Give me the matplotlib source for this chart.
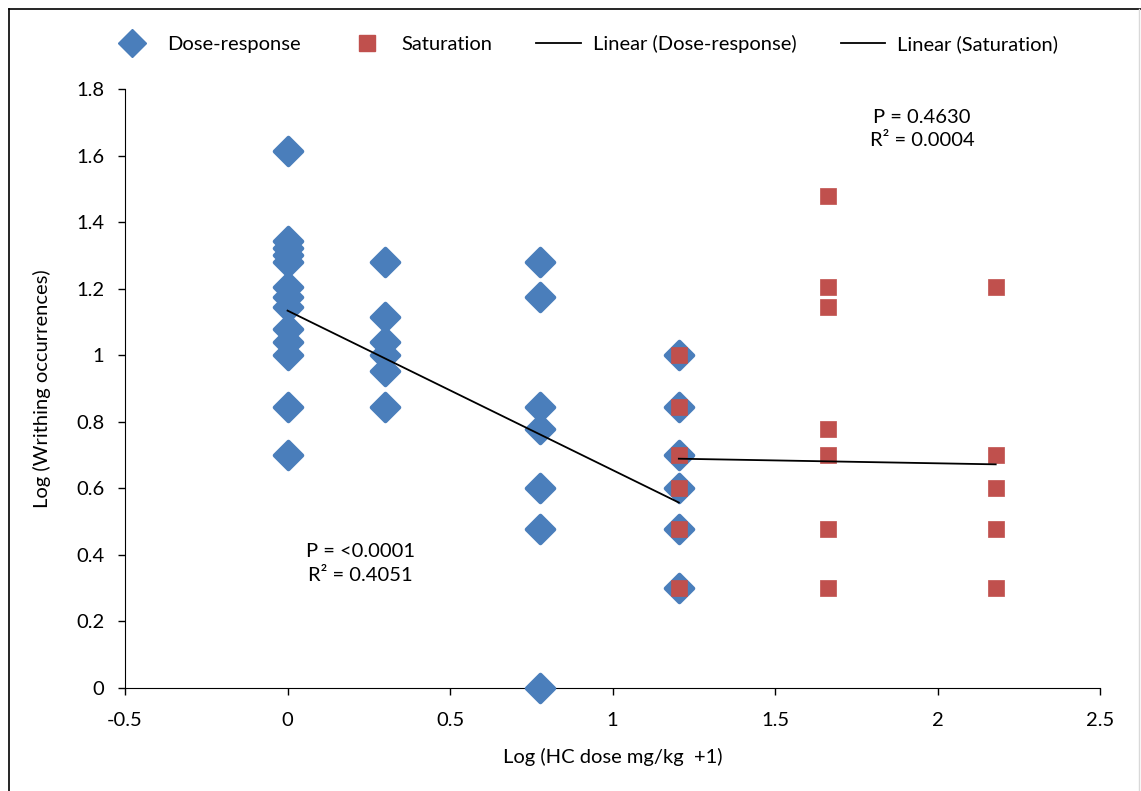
import matplotlib.pyplot as plt
import matplotlib.lines as mlines
import numpy as np

plt.rcParams['font.family'] = ['Lato', 'DejaVu Sans']

# log10(dose + 1) groups and log10(writhing counts)
dose_x = [0.0] * 13 + [0.301] * 6 + [0.778] * 7 + [1.204] * 6
dose_y = [1.613, 1.342, 1.322, 1.301, 1.279, 1.204, 1.176, 1.146, 1.079, 1.041, 1.0, 0.845, 0.699,
          1.279, 1.114, 1.041, 1.0, 0.954, 0.845,
          1.279, 1.176, 0.845, 0.778, 0.602, 0.477, 0.0,
          1.0, 0.845, 0.699, 0.602, 0.477, 0.301]

sat_x = [1.204] * 6 + [1.663] * 7 + [2.179] * 5
sat_y = [1.0, 0.845, 0.699, 0.602, 0.477, 0.301,
         1.477, 1.204, 1.146, 0.778, 0.699, 0.477, 0.301,
         1.204, 0.699, 0.602, 0.477, 0.301]

# trendline (slope, intercept) for each series
dose_fit = (-0.479, 1.134)
sat_fit = (-0.0174, 0.710)

dose_stats = "P = <0.0001\nR\u00b2 = 0.4051"
sat_stats = "P = 0.4630\nR\u00b2 = 0.0004"

BLUE = "#4A7EBB"
RED = "#C0504D"
FS = 14.5

fig = plt.figure(figsize=(11.41, 7.91), dpi=100)
ax = fig.add_axes([0.1096, 0.1302, 0.9641 - 0.1096, 0.8875 - 0.1302])

dots = ax.scatter(dose_x, dose_y, marker="D", s=195, color=BLUE, edgecolors=BLUE,
                  linewidths=3, zorder=3, clip_on=False)
dots.set_joinstyle("round")
ax.scatter(sat_x, sat_y, marker="s", s=140, color=RED, edgecolors=RED, linewidths=0.5, zorder=4)

for fit, xs in [(dose_fit, dose_x), (sat_fit, sat_x)]:
    xr = np.array([min(xs), max(xs)])
    ax.plot(xr, fit[0] * xr + fit[1], color="black", lw=1.3, zorder=5)

ax.set_xlim(-0.5, 2.5)
ax.set_ylim(0, 1.8)
ax.set_xticks(np.arange(-0.5, 2.51, 0.5))
ax.set_xticklabels(["-0.5", "0", "0.5", "1", "1.5", "2", "2.5"])
ax.set_yticks(np.arange(0, 1.81, 0.2))
ax.set_yticklabels(["0", "0.2", "0.4", "0.6", "0.8", "1", "1.2", "1.4", "1.6", "1.8"])
ax.spines["top"].set_visible(False)
ax.spines["right"].set_visible(False)
ax.tick_params(axis="both", direction="out", length=5, width=1, labelsize=FS, color="black")
ax.tick_params(axis="x", pad=12)
ax.tick_params(axis="y", pad=10)

ax.set_xlabel("Log (HC dose mg/kg  +1)", fontsize=FS, labelpad=14)
ax.set_ylabel("Log (Writhing occurrences)", fontsize=FS, labelpad=18)

ax.text(0.223, 0.374, dose_stats, ha="center", va="center", fontsize=FS, linespacing=1.45)
ax.text(1.952, 1.68, sat_stats, ha="center", va="center", fontsize=FS, linespacing=1.45)

handles = [
    mlines.Line2D([], [], linestyle="none", marker="D", ms=14, color=BLUE),
    mlines.Line2D([], [], linestyle="none", marker="s", ms=12, color=RED),
    mlines.Line2D([], [], color="black", lw=1.3),
    mlines.Line2D([], [], color="black", lw=1.3),
]
labels = ["Dose-response", "Saturation", "Linear (Dose-response)", "Linear (Saturation)"]
fig.legend(handles, labels, loc="center", bbox_to_anchor=(0.512, 0.944), ncol=4, frameon=False,
           fontsize=FS, handlelength=2.2, columnspacing=2.2, handletextpad=0.6)

# chart frame
fig.add_artist(mlines.Line2D([9 / 1141, 1.0], [1 - 9 / 791, 1 - 9 / 791], color="black", lw=1.2))
fig.add_artist(mlines.Line2D([9 / 1141, 9 / 1141], [0, 1 - 9 / 791], color="black", lw=1.2))
fig.add_artist(mlines.Line2D([1139 / 1141, 1139 / 1141], [0, 1 - 9 / 791], color="#d9d9d9", lw=1))

fig.savefig("out.png", dpi=100)
